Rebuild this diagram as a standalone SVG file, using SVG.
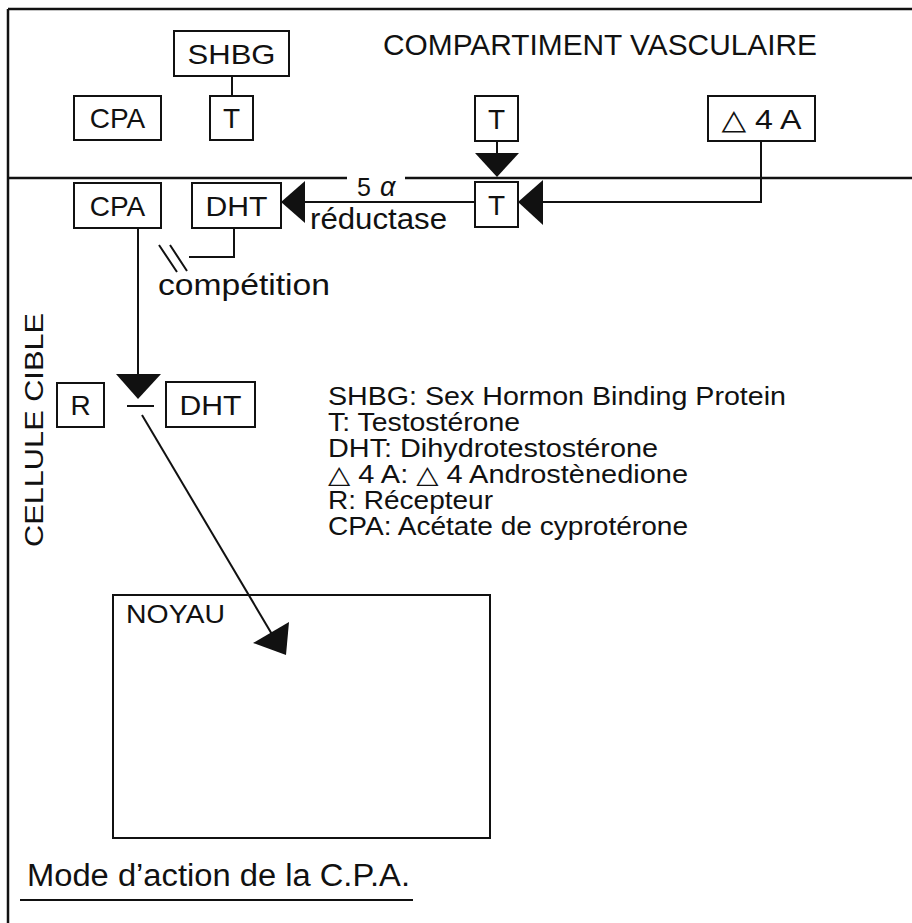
<svg xmlns="http://www.w3.org/2000/svg" width="912" height="923" viewBox="0 0 912 923">
<style>
 .bx{fill:none;stroke:#111;stroke-width:2}
 .ln{fill:none;stroke:#111;stroke-width:2}
 .fr{fill:none;stroke:#111;stroke-width:2.5}
 .ah{fill:#111;stroke:none}
 text{font-family:"Liberation Sans","DejaVu Sans",Arial,sans-serif;fill:#111}
 .lbl{font-size:28px;text-anchor:middle}
 .leg{font-size:25px}
</style>
<rect width="912" height="923" fill="#fff"/>
<g id="frame">
 <path class="fr" d="M8,9 H912 M8,9 V923"/>
 <path class="fr" d="M8,178 H347 M405,178 H912"/>
 <text x="383" y="55" font-size="29" textLength="434" lengthAdjust="spacingAndGlyphs">COMPARTIMENT VASCULAIRE</text>
 <text transform="translate(43,547) rotate(-90)" font-size="25" textLength="234" lengthAdjust="spacingAndGlyphs">CELLULE CIBLE</text>
</g>
<g id="connectors">
 <path class="ln" d="M232,76 V96"/>
 <path class="ln" d="M497,141 V156"/>
 <polygon class="ah" points="475,153 519,153 497,177"/>
 <path class="ln" d="M761,141 V202 H540"/>
 <polygon class="ah" points="518,202 543,180 543,225"/>
 <path class="ln" d="M475,202 H302"/>
 <polygon class="ah" points="281,202 305,181 305,223"/>
 <path class="ln" d="M234,228 V257 H189"/>
 <path class="ln" d="M159,245 L177,272 M170,245 L187,271"/>
 <path class="ln" d="M138,228 V376"/>
 <polygon class="ah" points="116,374 161,374 138,399"/>
 <path class="ln" d="M127,406 H154"/>
 <path class="ln" d="M142,415 L273,636"/>
 <polygon class="ah" points="286,655 289,622 253,643"/>
</g>
<g id="shbg"><rect class="bx" x="174" y="31" width="115" height="45"/><text class="lbl" x="231.5" y="63.5" textLength="88" lengthAdjust="spacingAndGlyphs">SHBG</text></g>
<g id="cpa-vasc"><rect class="bx" x="74" y="96" width="87" height="44"/><text class="lbl" x="117.5" y="128">CPA</text></g>
<g id="t-shbg"><rect class="bx" x="210" y="96" width="43" height="44"/><text class="lbl" x="231.5" y="128">T</text></g>
<g id="t-vasc"><rect class="bx" x="475" y="96" width="43" height="45"/><text class="lbl" x="496.5" y="128.5">T</text></g>
<g id="d4a"><rect class="bx" x="708" y="96" width="107" height="45"/><text class="lbl" x="761.5" y="129" textLength="80" lengthAdjust="spacingAndGlyphs">△ 4 A</text></g>
<g id="cpa-cell"><rect class="bx" x="74" y="183" width="87" height="45"/><text class="lbl" x="117.5" y="215.5">CPA</text></g>
<g id="dht-cell"><rect class="bx" x="192" y="183" width="89" height="45"/><text class="lbl" x="236.5" y="215.5" textLength="62" lengthAdjust="spacingAndGlyphs">DHT</text></g>
<g id="t-cell"><rect class="bx" x="475" y="182" width="43" height="45"/><text class="lbl" x="496.5" y="214.5">T</text></g>
<g id="enzyme">
 <text x="357" y="196" font-size="25">5<tspan dx="9" font-style="italic" font-size="27">α</tspan></text>
 <text x="310" y="229" font-size="29" textLength="137" lengthAdjust="spacingAndGlyphs">réductase</text>
</g>
<g id="competition"><text x="158" y="295" font-size="29" textLength="172" lengthAdjust="spacingAndGlyphs">compétition</text></g>
<g id="r"><rect class="bx" x="57" y="383" width="47" height="44"/><text class="lbl" x="80.5" y="415">R</text></g>
<g id="dht-r"><rect class="bx" x="166" y="382" width="89" height="45"/><text class="lbl" x="210.5" y="414.5" textLength="62" lengthAdjust="spacingAndGlyphs">DHT</text></g>
<g id="noyau"><rect class="bx" x="113" y="595" width="377" height="243"/><text x="126" y="623" font-size="25" textLength="99" lengthAdjust="spacingAndGlyphs">NOYAU</text></g>
<g id="legend">
 <text class="leg" x="328" y="405" textLength="458" lengthAdjust="spacingAndGlyphs">SHBG: Sex Hormon Binding Protein</text>
 <text class="leg" x="328" y="431" textLength="192" lengthAdjust="spacingAndGlyphs">T: Testostérone</text>
 <text class="leg" x="328" y="457" textLength="330" lengthAdjust="spacingAndGlyphs">DHT: Dihydrotestostérone</text>
 <text class="leg" x="328" y="483" textLength="360" lengthAdjust="spacingAndGlyphs">△ 4 A: △ 4 Androstènedione</text>
 <text class="leg" x="328" y="509" textLength="165" lengthAdjust="spacingAndGlyphs">R: Récepteur</text>
 <text class="leg" x="328" y="535" textLength="360" lengthAdjust="spacingAndGlyphs">CPA: Acétate de cyprotérone</text>
</g>
<g id="title">
 <text x="27" y="886" font-size="31" textLength="383" lengthAdjust="spacingAndGlyphs">Mode d’action de la C.P.A.</text>
 <path class="ln" d="M20,900 H413"/>
</g>
</svg>
